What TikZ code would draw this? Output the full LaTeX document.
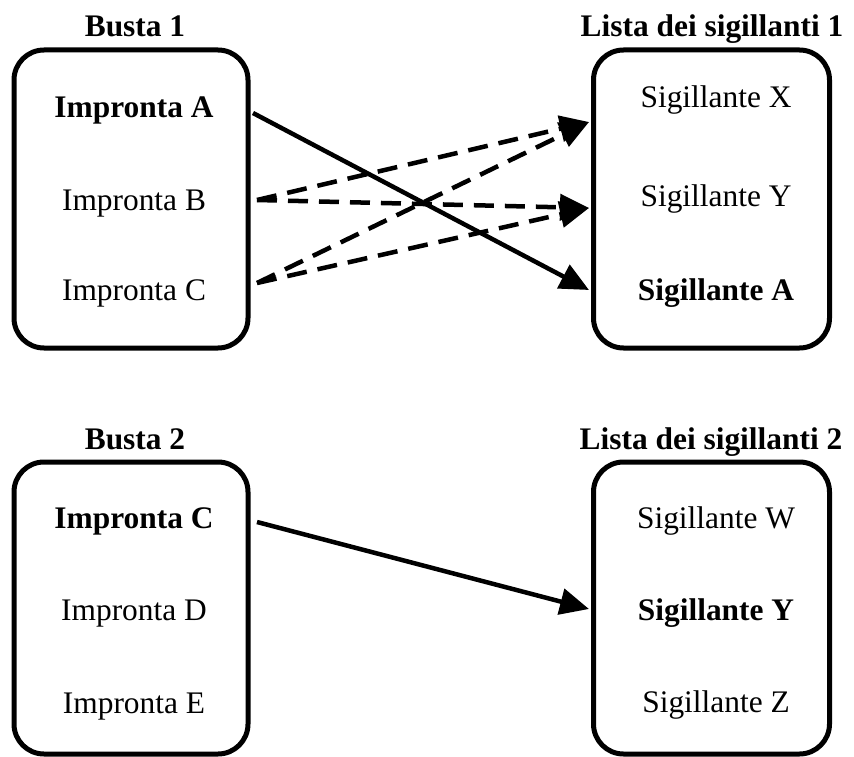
\documentclass[tikz,border=0pt]{standalone}
\usepackage{fontspec}
\setmainfont{Liberation Serif}
\usetikzlibrary{arrows.meta}
\begin{document}
\begin{tikzpicture}[x=1pt,y=-1pt,
  envelope/.style={draw, line width=5pt, rounded corners=30pt,
    minimum width=234pt, inner sep=0pt},
  entry/.style={anchor=base, inner sep=0pt, font=\fontsize{31.4}{36}\selectfont},
  strong/.style={anchor=base, inner sep=0pt, font=\fontsize{31.4}{36}\selectfont\bfseries},
  link/.style={line width=4.5pt, -{Triangle[length=29pt,width=26pt]}},
  maybe/.style={link, dash pattern=on 20pt off 11pt}]
\useasboundingbox (0,0) rectangle (854,757);

% frames
\node[envelope, minimum height=298pt] (busta1) at (131,199) {};
\node[envelope, minimum height=298pt, minimum width=236pt] (lista1) at (711.5,199) {};
\node[envelope, minimum height=292pt] (busta2) at (131,608) {};
\node[envelope, minimum height=292pt, minimum width=236pt] (lista2) at (711.5,608) {};

% headings
\node[strong] (t1) at (135,37) {Busta 1};
\node[strong] (t2) at (712,37) {Lista dei sigillanti 1};
\node[strong] (t3) at (135,449) {Busta 2};
\node[strong] (t4) at (711,449) {Lista dei sigillanti 2};

% first envelope
\node[strong] (impA) at (134,118) {Impronta A};
\node[entry] (impB) at (134,210) {Impronta B};
\node[entry] (impC) at (134,300) {Impronta C};
\node[entry] (sigX) at (716,108) {Sigillante X};
\node[entry] (sigY) at (716,206) {Sigillante Y};
\node[strong] (sigA) at (716,300) {Sigillante A};

% second envelope
\node[strong] (impC2) at (134,528) {Impronta C};
\node[entry] (impD) at (134,620) {Impronta D};
\node[entry] (impE) at (134,713) {Impronta E};
\node[entry] (sigW) at (716,528) {Sigillante W};
\node[strong] (sigY2) at (716,620) {Sigillante Y};
\node[entry] (sigZ) at (716,712) {Sigillante Z};

% connector ends
\coordinate (oA) at (253,113);
\coordinate (oB) at (257,200);
\coordinate (oC) at (257,283);
\coordinate (iX) at (589,122);
\coordinate (iY) at (589,208);
\coordinate (iA) at (589,290);
\coordinate (oC2) at (257,522);
\coordinate (iY2) at (589,609);

% connectors
\draw[maybe] (oB) -- (iX);
\draw[maybe] (oB) -- (iY);
\draw[maybe] (oC) -- (iX);
\draw[maybe] (oC) -- (iY);
\draw[link] (oA) -- (iA);
\draw[link] (oC2) -- (iY2);
\end{tikzpicture}
\end{document}
